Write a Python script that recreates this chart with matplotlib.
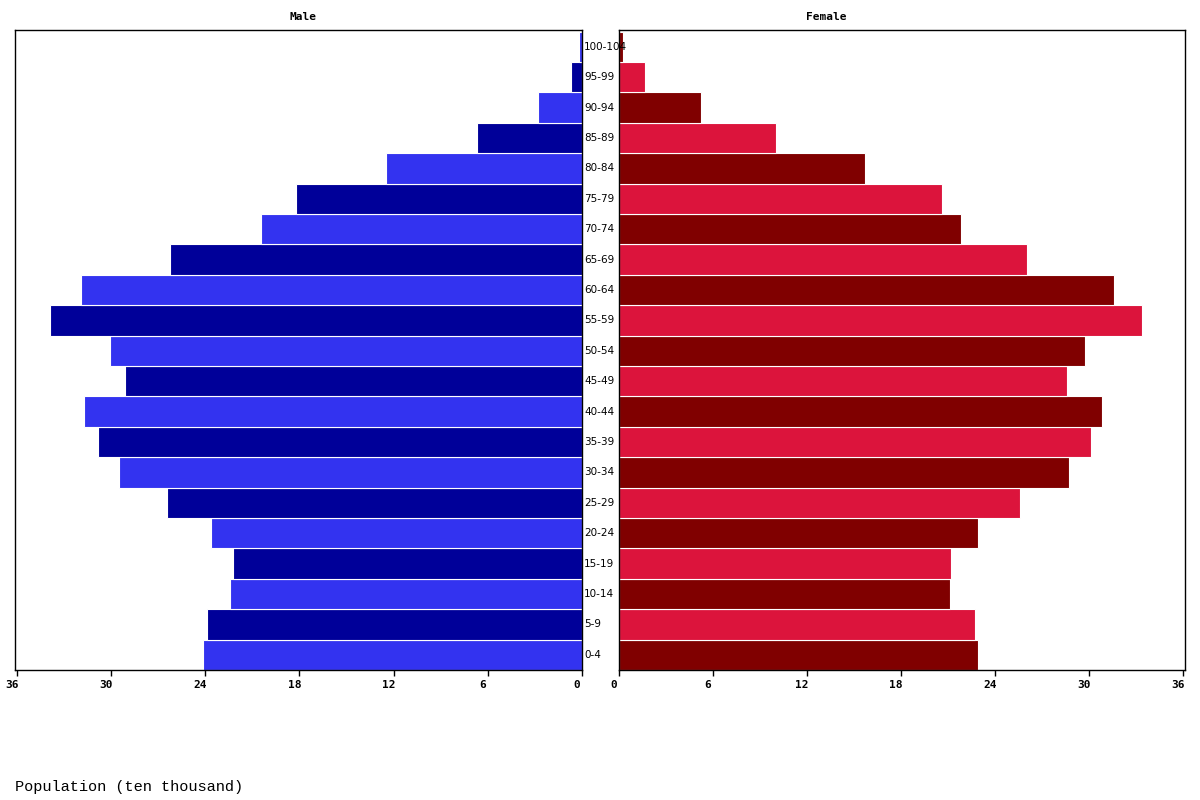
import numpy as np
import matplotlib.pyplot as plt
import matplotlib.transforms as mtransforms

# grupos de edad (de abajo hacia arriba)
edades = ['0-4', '5-9', '10-14', '15-19', '20-24', '25-29', '30-34', '35-39',
          '40-44', '45-49', '50-54', '55-59', '60-64', '65-69', '70-74',
          '75-79', '80-84', '85-89', '90-94', '95-99', '100-104']

hombres = [24.1, 23.9, 22.4, 22.2, 23.6, 26.4, 29.5, 30.8, 31.7, 29.1, 30.05,
           33.9, 31.9, 26.2, 20.45, 18.2, 12.5, 6.7, 2.8, 0.67, 0.2]
mujeres = [22.9, 22.7, 21.1, 21.2, 22.9, 25.6, 28.7, 30.1, 30.8, 28.6, 29.7,
           33.35, 31.6, 26.0, 21.8, 20.6, 15.7, 10.0, 5.2, 1.66, 0.26]

ticks = [0, 6, 12, 18, 24, 30, 36]

col_h = ['#3333F0', '#000099']
col_m = ['#800000', '#DC143C']

y = np.arange(len(edades))

fig = plt.figure(figsize=(12, 8), dpi=100)
ax1 = fig.add_axes([15/1200, 130/800, 567/1200, 640/800])
ax2 = fig.add_axes([619/1200, 130/800, 566/1200, 640/800])

ax1.barh(y, hombres, height=1.0, color=[col_h[i % 2] for i in y],
         edgecolor='white', linewidth=0.8)
ax2.barh(y, mujeres, height=1.0, color=[col_m[i % 2] for i in y],
         edgecolor='white', linewidth=0.8)

ax1.set_xlim(36.1, 0)
ax2.set_xlim(0, 36.1)

desplaz = mtransforms.ScaledTranslation(-5/100, 0, fig.dpi_scale_trans)
for ax in (ax1, ax2):
    ax.set_ylim(-0.5, len(edades) - 0.45)
    ax.set_xticks(ticks)
    ax.set_xticklabels([str(t) for t in ticks], fontfamily='DejaVu Sans Mono',
                       fontweight='bold', fontsize=8)
    ax.set_yticks([])
    ax.tick_params(axis='x', direction='out', length=4, width=1, pad=3)
    for s in ax.spines.values():
        s.set_linewidth(1)
    for lab in ax.get_xticklabels():
        lab.set_transform(lab.get_transform() + desplaz)

# titulos (no centrados exactamente en los ejes, como en el original)
fig.text(303/1200, 1 - 17/800, 'Male', fontsize=8, fontweight='bold',
         fontfamily='DejaVu Sans Mono', ha='center', va='center')
fig.text(826/1200, 1 - 17/800, 'Female', fontsize=8, fontweight='bold',
         fontfamily='DejaVu Sans Mono', ha='center', va='center')

# etiquetas de edad encima de todo
trans = mtransforms.blended_transform_factory(fig.transFigure, ax1.transData)
for yi, e in zip(y, edades):
    fig.text(584/1200, yi, e, transform=trans, ha='left', va='center',
             fontsize=7.5, fontfamily='DejaVu Sans', zorder=10)

fig.text(15/1200, 6/800, 'Population (ten thousand)', fontsize=11,
         fontfamily='Liberation Mono', ha='left', va='bottom')

plt.savefig('out.png', dpi=100)
